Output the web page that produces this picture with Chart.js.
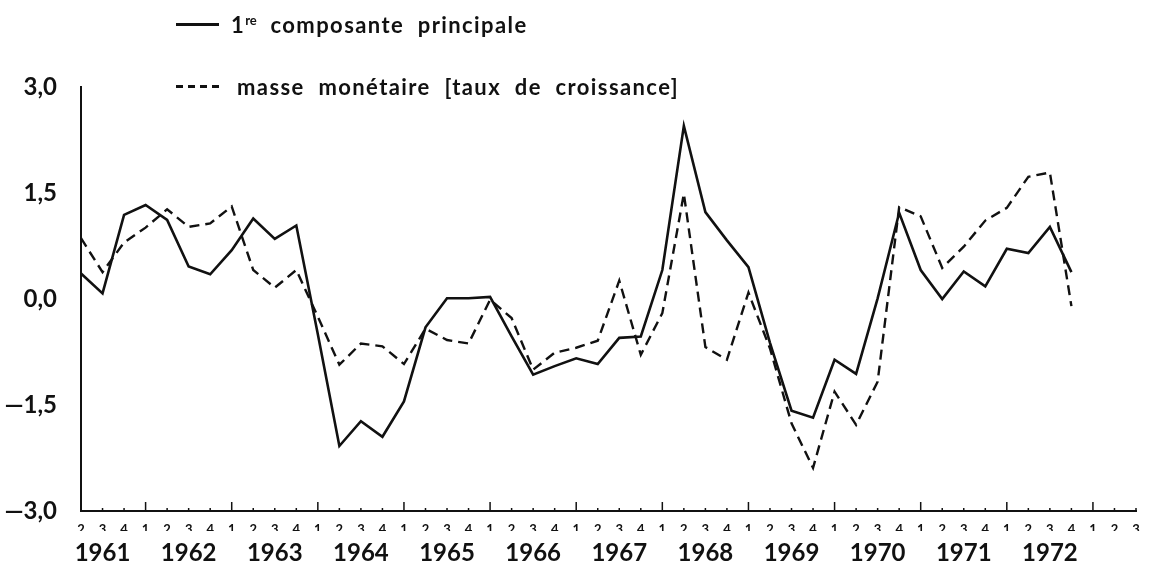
<!DOCTYPE html>
<html>
<head>
<meta charset="utf-8">
<script src="https://cdn.jsdelivr.net/npm/chart.js@4"></script>
<style>
    html, body { margin: 0; padding: 0; background: #fff; }
    #wrap { position: relative; width: 1150px; height: 566px; font-family: Lato, "Noto Sans", sans-serif; font-weight: bold; color: #111; }
    #chart { position: absolute; left: 0; top: 0; }
    .legendRow { position: absolute; left: 176px; font-size: 22px; letter-spacing: 1.4px; word-spacing: 7px; white-space: nowrap; display: flex; align-items: center; }
    .legendRow .sample { width: 43px; height: 2.5px; background: #111; margin-right: 12px; }
    .legendRow .sample.dashed { background: repeating-linear-gradient(to right, #111 0 7px, transparent 7px 12px); margin-right: 18px; }
    .legendRow sup { font-size: 13px; letter-spacing: 0; }
</style>
</head>
<body>
<div id="wrap">
    <canvas id="chart" width="1150" height="566"></canvas>
</div>
<script>
// quarter numbers along the axis, 1961 Q2 to 1973 Q3
const quarterLabels = ['2', '3', '4',
    '1', '2', '3', '4', '1', '2', '3', '4', '1', '2', '3', '4', '1', '2', '3', '4',
    '1', '2', '3', '4', '1', '2', '3', '4', '1', '2', '3', '4', '1', '2', '3', '4',
    '1', '2', '3', '4', '1', '2', '3', '4', '1', '2', '3', '4',
    '1', '2', '3'];
const yearLabels = ['1961', '1962', '1963', '1964', '1965', '1966', '1967', '1968', '1969', '1970', '1971', '1972'];

const composante = [0.36, 0.08, 1.19, 1.33, 1.12, 0.46, 0.35, 0.69, 1.14, 0.85, 1.04, -0.50,
    -2.08, -1.73, -1.95, -1.45, -0.40, 0.01, 0.01, 0.03, -0.53, -1.07, -0.95, -0.84,
    -0.92, -0.55, -0.53, 0.41, 2.45, 1.23, 0.83, 0.45, -0.62, -1.58, -1.68, -0.86,
    -1.06, 0.01, 1.22, 0.41, 0.00, 0.39, 0.18, 0.71, 0.65, 1.02, 0.38];
const masseMonetaire = [0.86, 0.38, 0.80, 1.01, 1.27, 1.02, 1.07, 1.31, 0.41, 0.16, 0.41, -0.25,
    -0.93, -0.63, -0.67, -0.92, -0.42, -0.58, -0.63, -0.01, -0.27, -1.00, -0.76, -0.69,
    -0.59, 0.26, -0.79, -0.20, 1.49, -0.68, -0.86, 0.09, -0.70, -1.76, -2.39, -1.31,
    -1.78, -1.17, 1.30, 1.17, 0.44, 0.74, 1.11, 1.29, 1.73, 1.79, -0.10];

const seriesNames = ['1re composante principale', 'masse monétaire [taux de croissance]'];

// year row: the year sits under its 3rd quarter
let yearRow = [];
let yearIndex = 0;
quarterLabels.forEach(function (q, i) {
    if (q === '3' && yearIndex < yearLabels.length) {
        yearRow.push(yearLabels[yearIndex]);
        yearIndex++;
    } else {
        yearRow.push('');
    }
});

const fontFamily = 'Lato, "Noto Sans", sans-serif';

// short ticks drawn upward from the axis line, long ones at each 1st quarter
const innerTicks = {
    id: 'innerTicks',
    afterDraw: (chart) => {
        let ctx = chart.ctx;
        let xs = chart.scales.x;
        let bottom = chart.chartArea.bottom;
        ctx.save();
        ctx.strokeStyle = '#111';
        ctx.lineWidth = 1.5;
        quarterLabels.forEach(function (q, i) {
            let px = xs.getPixelForTick(i);
            let len = q === '1' ? 9 : 3;
            ctx.beginPath();
            ctx.moveTo(px, bottom);
            ctx.lineTo(px, bottom - len);
            ctx.stroke();
        });
        ctx.restore();
    }
};

let ctx = document.getElementById('chart').getContext('2d');
new Chart(ctx, {
    type: 'line',
    data: {
        labels: quarterLabels,
        datasets: [{
            label: seriesNames[0],
            data: composante,
            borderColor: '#111',
            borderWidth: 2.6,
            pointRadius: 0,
            tension: 0
        }, {
            label: seriesNames[1],
            data: masseMonetaire,
            borderColor: '#111',
            borderWidth: 2.4,
            borderDash: [10, 6],
            pointRadius: 0,
            tension: 0
        }]
    },
    options: {
        responsive: false,
        animation: false,
        layout: { padding: { top: 87, right: 14, left: 0, bottom: 0 } },
        plugins: { legend: { display: false }, tooltip: { enabled: false } },
        scales: {
            x: {
                type: 'category',
                offset: false,
                grid: { display: false },
                border: { display: true, color: '#111', width: 2 },
                ticks: {
                    autoSkip: false, maxRotation: 0, padding: 3, color: '#111',
                    font: { family: fontFamily, size: 13, weight: 'bold' }
                },
                afterFit: (scale) => { scale.height = 20; }
            },
            x2: {
                type: 'category',
                labels: yearRow,
                position: 'bottom',
                offset: false,
                grid: { display: false },
                border: { display: false },
                ticks: {
                    autoSkip: false, maxRotation: 0, padding: 0, color: '#111',
                    font: { family: fontFamily, size: 24, weight: 'bold' }
                },
                afterFit: (scale) => { scale.height = 35; }
            },
            y: {
                min: -3,
                max: 3,
                grid: { display: false, drawTicks: false },
                border: { display: true, color: '#111', width: 2 },
                ticks: {
                    stepSize: 1.5, padding: 24, color: '#111',
                    font: { family: fontFamily, size: 24, weight: 'bold' },
                    callback: (v) => (v < 0 ? '\u2014' : '') + Math.abs(v).toFixed(1).replace('.', ',')
                },
                afterFit: (scale) => { scale.width = 81; }
            }
        }
    },
    plugins: [innerTicks]
});

// legend as two rows of real text over the top of the chart
let wrap = document.getElementById('wrap');
let legendTops = [11, 73];
seriesNames.forEach(function (name, i) {
    let row = document.createElement('div');
    row.className = 'legendRow';
    row.style.top = legendTops[i] + 'px';
    let sample = document.createElement('span');
    sample.className = i === 0 ? 'sample' : 'sample dashed';
    let text = document.createElement('span');
    if (i === 0) {
        text.innerHTML = '1<sup>re</sup>' + name.slice(3);
    } else {
        text.textContent = name;
    }
    row.appendChild(sample);
    row.appendChild(text);
    wrap.appendChild(row);
});
</script>
</body>
</html>
